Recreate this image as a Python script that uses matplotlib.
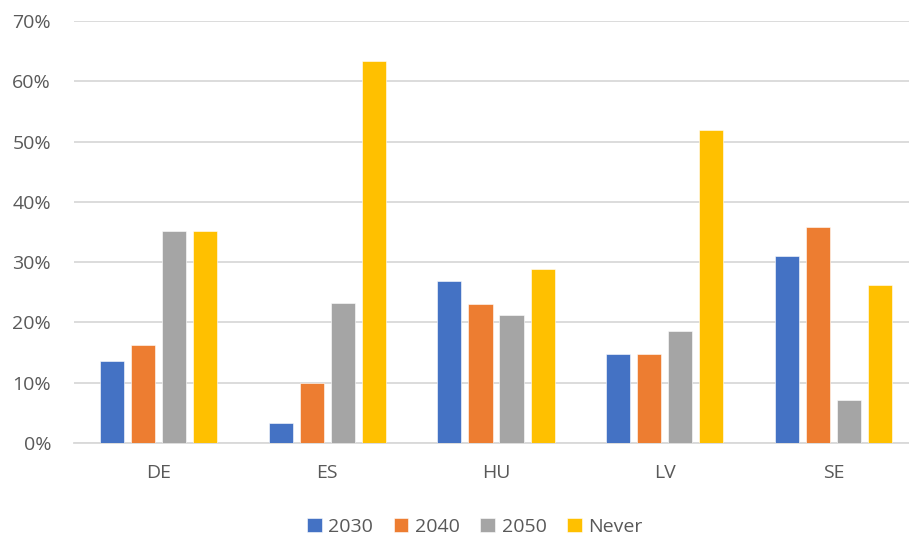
import matplotlib
matplotlib.use("Agg")
import matplotlib.pyplot as plt
import numpy as np
from matplotlib.ticker import PercentFormatter

# values (percent)
countries = ["DE", "ES", "HU", "LV", "SE"]
series_names = ["2030", "2040", "2050", "Never"]
v2030 = [13.6, 3.3, 26.9, 14.8, 31.0]
v2040 = [16.2, 10.0, 23.0, 14.8, 35.8]
v2050 = [35.2, 23.3, 21.2, 18.5, 7.2]
vnever = [35.2, 63.3, 28.9, 51.9, 26.2]
colors = ["#4472C4", "#ED7D31", "#A5A5A5", "#FFC000"]

plt.rcParams["font.family"] = ["Open Sans", "DejaVu Sans"]
text_color = "#595959"

fig = plt.figure(figsize=(9.09, 5.38), dpi=100)
# plot area runs a little past the right edge of the image, as in the original
ax = fig.add_axes([74 / 909, 1 - 443 / 538, (918 - 74) / 909, (443 - 21) / 538])

x = np.arange(len(countries))
width = 0.143
pitch = 0.184
for i, (vals, name, c) in enumerate(zip([v2030, v2040, v2050, vnever], series_names, colors)):
    ax.bar(x + (i - 1.5) * pitch, vals, width, color=c, label=name,
           edgecolor="white", linewidth=0.4, zorder=3)

ax.set_xlim(-0.5, len(countries) - 0.5)
ax.set_ylim(0, 70)
ax.set_yticks(np.arange(0, 71, 10))
ax.yaxis.set_major_formatter(PercentFormatter(decimals=0))
ax.set_xticks(x)
ax.set_xticklabels(countries)
ax.grid(axis="y", color="#D9D9D9", linewidth=1.3, zorder=0)
for s in ["top", "right", "left"]:
    ax.spines[s].set_visible(False)
ax.spines["bottom"].set_color("#D9D9D9")
ax.spines["bottom"].set_linewidth(1.3)
ax.tick_params(axis="both", length=0, labelsize=14, colors=text_color)
ax.tick_params(axis="x", pad=15)
ax.tick_params(axis="y", pad=16.5)

leg = fig.legend(loc="center", bbox_to_anchor=(475 / 909, 1 - 527 / 538), ncol=4,
                 frameon=False, fontsize=14, handlelength=0.75, handleheight=0.75,
                 handletextpad=0.35, columnspacing=1.05, labelcolor=text_color)

fig.savefig("out.png", dpi=100)
